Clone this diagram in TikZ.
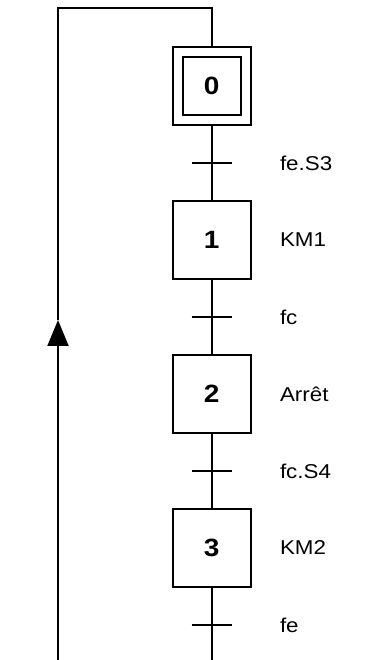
\documentclass[tikz,border=0pt]{standalone}
\usepackage{fontspec}
\setmainfont{Liberation Sans}[FakeStretch=1.12]
\usetikzlibrary{arrows.meta}
\begin{document}
\begin{tikzpicture}[x=1pt,y=1pt,
  line width=2pt,
  stepbox/.style={draw,rectangle,minimum size=78pt,inner sep=0pt,font=\fontsize{25}{25}\selectfont\bfseries},
  innerbox/.style={draw,rectangle,minimum size=58pt,inner sep=0pt,font=\fontsize{25}{25}\selectfont\bfseries},
  lbl/.style={anchor=west,inner sep=0pt,font=\fontsize{20}{20}\selectfont}]
\useasboundingbox (0,0) rectangle (372,660);
% steps
\node[stepbox] (s0) at (211.7,574) {};
\node[innerbox] (s0i) at (s0.center) {0};
\node[stepbox] (s1) at (211.7,420) {1};
\node[stepbox] (s2) at (211.7,266) {2};
\node[stepbox] (s3) at (211.7,112) {3};
% transitions
\coordinate (t1) at (211.7,497);
\coordinate (t2) at (211.7,343);
\coordinate (t3) at (211.7,189);
\coordinate (t4) at (211.7,35);
\coordinate (bot) at (211.7,0);
\coordinate (topr) at (211.7,652);
\coordinate (topl) at (58,652);
\coordinate (botl) at (58,0);
\coordinate (arr) at (58,340);
% links
\draw (s0.south) -- (s1.north);
\draw (s1.south) -- (s2.north);
\draw (s2.south) -- (s3.north);
\draw (s3.south) -- (bot);
\foreach \t in {t1,t2,t3,t4}
  \draw ([xshift=-20pt]\t) -- ([xshift=20pt]\t);
% return line
\draw[-{Triangle[length=26pt,width=21pt]}] (botl) -- (arr);
\draw (arr) -- (topl) -- (topr) -- (s0.north);
% labels
\node[lbl] (l1) at (279,497) {fe.S3};
\node[lbl] (l2) at (279,420) {KM1};
\node[lbl] (l3) at (279,343) {fc};
\node[lbl] (l4) at (279,266) {Arrêt};
\node[lbl] (l5) at (279,189) {fc.S4};
\node[lbl] (l6) at (279,112) {KM2};
\node[lbl] (l7) at (279,35) {fe};
\end{tikzpicture}
\end{document}
